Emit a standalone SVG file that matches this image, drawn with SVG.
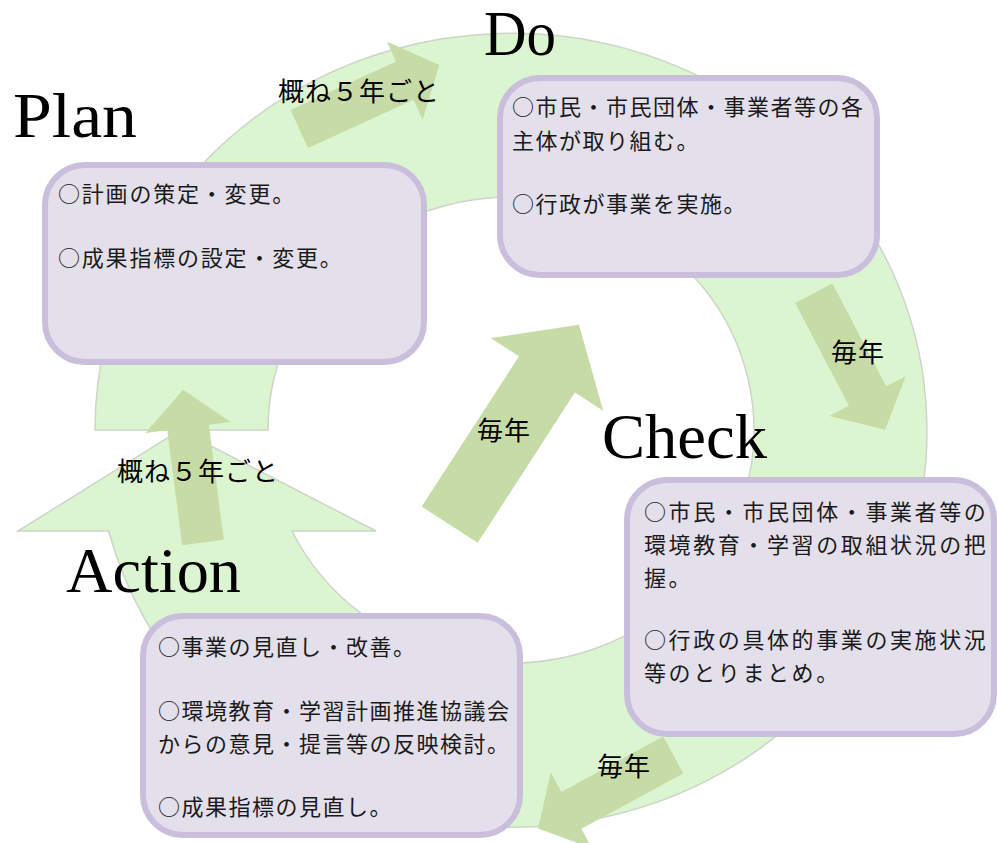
<svg xmlns="http://www.w3.org/2000/svg" width="997" height="843" viewBox="0 0 997 843">
<defs>
<style>
.ring{fill:#dcf5d1;stroke:#cdd5c8;stroke-width:1.5;}
.arr{fill:#c7dba7;}
.box{fill:#e3dfeb;stroke:#c9bedb;stroke-width:6;}
.title{font-family:"Liberation Serif","DejaVu Serif",serif;font-size:63px;fill:#000;}
.lbl{font-family:"Noto Sans CJK JP","Noto Sans",sans-serif;font-size:26px;fill:#000;letter-spacing:1px;}
.txt{font-family:"Noto Sans CJK JP","Noto Sans",sans-serif;font-size:22px;fill:#1a1a1a;letter-spacing:1.5px;}
</style>
<path id="sa" d="M0,-21 H116 V-43 L154,0 L116,43 V21 H0 Z"/>
</defs>
<rect width="997" height="843" fill="#fff"/>
<g id="cycle">
<path class="ring" d="M95,430 A416,397 0 1 1 108.6,531 L18,531 L180,430 L376,531 L292,531 A243,233 0 1 0 268,430 Z"/>
</g>
<g id="connectors">
<use href="#sa" class="arr" transform="translate(299.3,129) rotate(-24.6)"/>
<use href="#sa" class="arr" transform="translate(813.8,293.3) rotate(62.4)"/>
<use href="#sa" class="arr" transform="translate(673.3,755) rotate(151.5)"/>
<use href="#sa" class="arr" transform="translate(203,542.5) rotate(-97.4)"/>
<path class="arr" d="M0,-33.3 H179 V-67 L238,0 L179,67 V33.3 H0 Z" transform="translate(449.7,524.7) rotate(-57.1)"/>
<text class="lbl" x="278" y="101">概ね５年ごと</text>
<text class="lbl" x="117" y="481">概ね５年ごと</text>
<text class="lbl" x="477" y="440">毎年</text>
<text class="lbl" x="831" y="362">毎年</text>
<text class="lbl" x="597" y="776">毎年</text>
</g>
<g id="plan">
<rect class="box" x="45" y="165" width="379" height="197" rx="40"/>
<text class="title" x="13" y="137" textLength="124" lengthAdjust="spacingAndGlyphs">Plan</text>
<text class="txt" x="58" y="202" style="letter-spacing:1.8px">○計画の策定・変更。</text>
<text class="txt" x="58" y="266" style="letter-spacing:1.8px">○成果指標の設定・変更。</text>
</g>
<g id="do">
<rect class="box" x="500" y="78" width="377" height="197" rx="40"/>
<text class="title" x="484" y="55" textLength="72" lengthAdjust="spacingAndGlyphs">Do</text>
<text class="txt" x="512" y="115">○市民・市民団体・事業者等の各</text>
<text class="txt" x="512" y="149">主体が取り組む。</text>
<text class="txt" x="512" y="212">○行政が事業を実施。</text>
</g>
<g id="check">
<rect class="box" x="627" y="480" width="367" height="254" rx="40"/>
<text class="title" x="602" y="458" textLength="165" lengthAdjust="spacingAndGlyphs">Check</text>
<text class="txt" x="644" y="520" style="letter-spacing:2.6px">○市民・市民団体・事業者等の</text>
<text class="txt" x="644" y="553" style="letter-spacing:2.6px">環境教育・学習の取組状況の把</text>
<text class="txt" x="644" y="586" style="letter-spacing:2.6px">握。</text>
<text class="txt" x="644" y="648" style="letter-spacing:2.6px">○行政の具体的事業の実施状況</text>
<text class="txt" x="644" y="681" style="letter-spacing:2.6px">等のとりまとめ。</text>
</g>
<g id="action">
<rect class="box" x="143" y="616" width="377" height="219" rx="40"/>
<text class="title" x="66" y="592" textLength="175" lengthAdjust="spacingAndGlyphs">Action</text>
<text class="txt" x="158" y="655">○事業の見直し・改善。</text>
<text class="txt" x="158" y="719">○環境教育・学習計画推進協議会</text>
<text class="txt" x="158" y="752">からの意見・提言等の反映検討。</text>
<text class="txt" x="158" y="815">○成果指標の見直し。</text>
</g>
</svg>
